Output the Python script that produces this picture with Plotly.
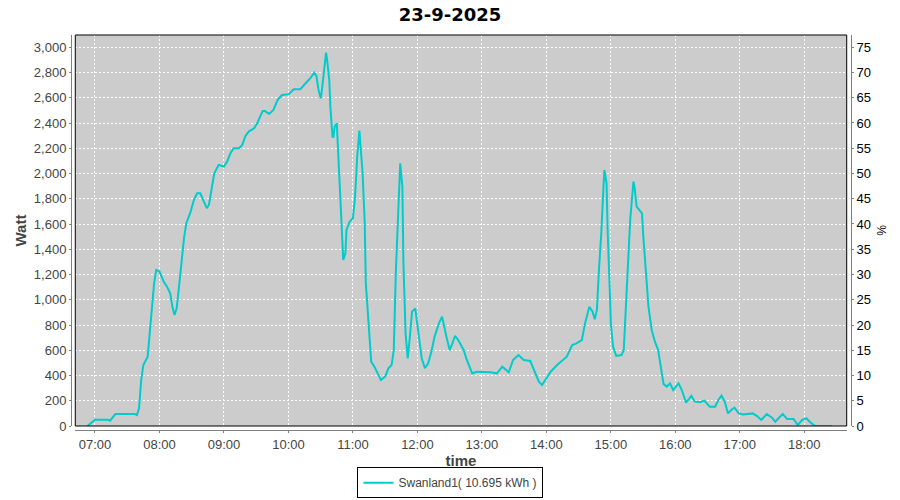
import plotly.graph_objects as go

# values (23-9-2025)
times = [
    "06:53", "07:00", "07:12", "07:14", "07:19", "07:37", "07:39", "07:41", "07:43", "07:45",
    "07:49", "07:50", "07:53", "07:55", "07:57", "08:00", "08:04", "08:07", "08:10", "08:12",
    "08:14", "08:16", "08:19", "08:21", "08:23", "08:25", "08:29", "08:32", "08:35", "08:38",
    "08:41", "08:44", "08:46", "08:49", "08:51", "08:55", "09:00", "09:03", "09:06", "09:09",
    "09:14", "09:17", "09:20", "09:23", "09:28", "09:31", "09:34", "09:36", "09:38", "09:42",
    "09:46", "09:50", "09:54", "10:00", "10:05", "10:11", "10:16", "10:21", "10:24", "10:26",
    "10:28", "10:30", "10:31", "10:33", "10:35", "10:36", "10:38", "10:39", "10:41", "10:42",
    "10:43", "10:45", "10:46", "10:48", "10:50", "10:51", "10:53", "10:54", "10:57", "11:00",
    "11:02", "11:04", "11:06", "11:09", "11:11", "11:12", "11:15", "11:17", "11:20", "11:23",
    "11:26", "11:30", "11:33", "11:36", "11:38", "11:40", "11:43", "11:44", "11:46", "11:47",
    "11:49", "11:51", "11:53", "11:55", "11:58", "12:01", "12:04", "12:07", "12:10", "12:13",
    "12:16", "12:20", "12:23", "12:27", "12:30", "12:32", "12:35", "12:38", "12:43", "12:46",
    "12:51", "12:55", "13:01", "13:08", "13:14", "13:19", "13:25", "13:29", "13:34", "13:39",
    "13:45", "13:50", "13:53", "13:56", "13:59", "14:04", "14:10", "14:15", "14:19", "14:24",
    "14:28", "14:33", "14:36", "14:40", "14:43", "14:45", "14:47", "14:49", "14:51", "14:53",
    "14:54", "14:56", "14:57", "14:59", "15:00", "15:02", "15:05", "15:10", "15:12", "15:14",
    "15:16", "15:18", "15:21", "15:22", "15:24", "15:27", "15:29", "15:30", "15:33", "15:35",
    "15:38", "15:41", "15:44", "15:47", "15:49", "15:52", "15:55", "15:58", "16:01", "16:03",
    "16:06", "16:09", "16:10", "16:15", "16:18", "16:23", "16:27", "16:32", "16:37", "16:40",
    "16:43", "16:46", "16:49", "16:52", "16:55", "16:59", "17:03", "17:12", "17:16", "17:20",
    "17:25", "17:30", "17:33", "17:36", "17:40", "17:44", "17:50", "17:54", "17:58", "18:02",
    "18:05", "18:10", "18:26",
]
watt = [
    0, 50, 50, 42, 95, 95, 87, 140, 365, 483,
    549, 655, 945, 1130, 1236, 1223, 1143, 1104, 1051, 945,
    879, 932, 1170, 1368, 1500, 1606, 1698, 1790, 1843, 1843,
    1777, 1725, 1751, 1896, 2002, 2068, 2055, 2094, 2160, 2200,
    2200, 2226, 2298, 2332, 2358, 2398, 2451, 2496, 2496, 2472,
    2504, 2583, 2622, 2628, 2667, 2667, 2715, 2762, 2800, 2773,
    2662, 2596, 2649, 2820, 2958, 2900, 2741, 2530, 2292, 2292,
    2372, 2398, 2213, 1870, 1500, 1315, 1368, 1553, 1619, 1645,
    1817, 2134, 2340, 2002, 1606, 1130, 761, 510, 470, 417,
    364, 391, 457, 483, 602, 1236, 1870, 2080, 1896, 1289,
    734, 536, 708, 906, 932, 734, 536, 457, 496, 589,
    708, 813, 866, 708, 602, 642, 713, 681, 602, 523,
    417, 430, 430, 425, 417, 470, 425, 523, 562, 523,
    515, 417, 351, 325, 364, 430, 483, 523, 549, 642,
    655, 681, 813, 945, 906, 845, 919, 1250, 1513, 1870,
    2028, 1923, 1553, 1077, 813, 629, 555, 562, 602, 945,
    1342, 1632, 1936, 1896, 1738, 1711, 1685, 1526, 1183, 945,
    761, 668, 602, 444, 333, 312, 338, 285, 312, 338,
    285, 206, 185, 240, 193, 188, 201, 153, 153, 206,
    240, 193, 100, 127, 145, 100, 92, 100, 79, 48,
    95, 66, 34, 61, 95, 55, 55, 8, 48, 61,
    34, 0, 0,
]
hour_ticks = ["%02d:00" % h for h in range(7, 19)]
series_name = "Swanland1( 10.695 kWh )"
day = "2025-09-23"

x = [day + " " + t for t in times]
tickvals = [day + " " + t for t in hour_ticks]

AXIS = "#808080"
LABEL = "#444444"

fig = go.Figure()
fig.add_trace(go.Scatter(x=x, y=watt, mode="lines", name=series_name,
                         line=dict(color="#00CCCC", width=2), yaxis="y"))
# dummy trace so the percent axis on the right is drawn
fig.add_trace(go.Scatter(x=x[:1], y=[0], mode="lines", line=dict(width=0),
                         showlegend=False, hoverinfo="skip", yaxis="y2"))

fig.update_layout(
    width=900, height=500,
    margin=dict(l=71, r=49, t=35, b=70, autoexpand=False),
    paper_bgcolor="white", plot_bgcolor="#CCCCCC",
    font=dict(family="Liberation Sans", size=12, color=LABEL),
    title=dict(text="23-9-2025", x=0.5, xanchor="center", y=0.97, yanchor="middle",
               font=dict(family="DejaVu Sans", size=18, color="#000000", weight="bold")),
    showlegend=True,
    legend=dict(orientation="h", x=0.4865, xanchor="center", y=-0.094, yanchor="top",
                bordercolor="#000000", borderwidth=1, bgcolor="white", itemwidth=30,
                font=dict(family="Liberation Sans", size=12, color=LABEL)),
    xaxis=dict(
        domain=[0.0055, 0.9945], anchor="free", position=0, automargin=False,
        type="date", range=[day + " 06:41:40", day + " 18:39:28"],
        tickvals=tickvals, ticktext=hour_ticks,
        showgrid=True, gridcolor="white", gridwidth=1, griddash="2px,2px",
        showline=True, linecolor=AXIS, linewidth=1,
        ticks="outside", ticklen=2, tickcolor=AXIS,
        tickfont=dict(size=13, color=LABEL),
        title=dict(text="time", standoff=1,
                   font=dict(family="Liberation Sans", size=15, color=LABEL, weight="bold")),
        zeroline=False,
    ),
    yaxis=dict(
        domain=[0.0101, 1], anchor="free", position=0, automargin=False,
        range=[0, 3097], dtick=200, tickformat=",d",
        showgrid=True, gridcolor="white", gridwidth=1, griddash="2px,2px",
        showline=True, linecolor=AXIS, linewidth=1,
        ticks="outside", ticklen=2, tickcolor=AXIS,
        tickfont=dict(size=13, color=LABEL),
        title=dict(text="Watt", standoff=2,
                   font=dict(family="Liberation Sans", size=15, color=LABEL, weight="bold")),
        zeroline=False,
    ),
    yaxis2=dict(
        domain=[0.0101, 1], anchor="free", position=1, overlaying="y", side="right",
        automargin=False, range=[0, 77.42], dtick=5,
        showgrid=False, showline=True, linecolor=AXIS, linewidth=1,
        ticks="outside", ticklen=2, tickcolor=AXIS,
        tickfont=dict(size=13, color="#000000"),
        zeroline=False,
    ),
)

# right axis title, turned the way the reference shows it
fig.add_annotation(text="%", textangle=90, xref="paper", yref="paper",
                   x=(881 - 71) / 780, y=(430 - 230) / 395, showarrow=False,
                   xanchor="center", yanchor="middle",
                   font=dict(family="Liberation Sans", size=12, color="#000000"))

# black border round the plot area
fig.add_shape(type="rect", xref="x domain", yref="y domain", x0=0, x1=1, y0=0, y1=1,
              line=dict(color="#000000", width=1), layer="above")

# drop the browser's default body margin so the figure sits at the page corner
fig.write_html("out.html", config={"displayModeBar": False},
               post_script="document.body.style.margin='0';")
